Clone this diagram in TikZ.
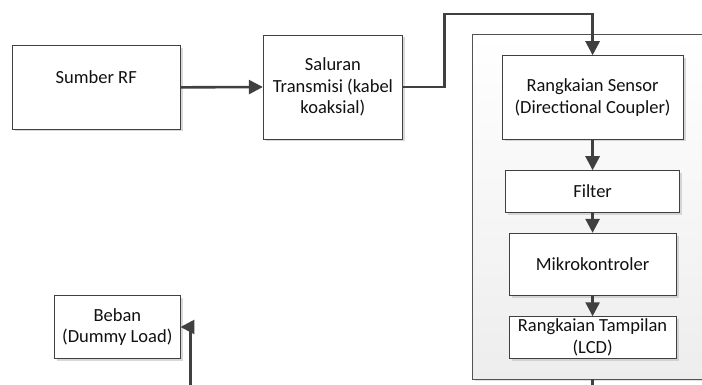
\documentclass[tikz,border=0pt]{standalone}
\usepackage{fontspec}
\setmainfont{Carlito}
\usetikzlibrary{arrows.meta,shadows}
\definecolor{edgegray}{HTML}{404040}
\definecolor{txtcol}{HTML}{111111}
\tikzset{
  box/.style={draw=edgegray, line width=0.9pt, fill=white, inner sep=0pt,
    align=center, text=txtcol, font=\fontsize{18.5}{21.6}\selectfont,
    drop shadow={shadow xshift=2.5pt, shadow yshift=-2.5pt, fill=black!22, opacity=0.7}},
  txtlabel/.style={inner sep=0pt, align=center, text=txtcol, font=\fontsize{18.5}{21.6}\selectfont},
  container/.style={draw=edgegray!90, line width=0.9pt, top color=white, bottom color=black!7, inner sep=0pt,
    drop shadow={shadow xshift=2pt, shadow yshift=-2pt, fill=black!20, opacity=0.6}},
  conn/.style={draw=edgegray, line width=2.6pt},
  arrowconn/.style={conn, -{Triangle[length=14pt,width=14pt]}},
}
\begin{document}
\begin{tikzpicture}[x=1pt,y=-1pt]
  \useasboundingbox (0,0) rectangle (702,385);
  \clip (0,0) rectangle (702,385);
  % container
  \node[container, minimum width=247.2pt, minimum height=344.7pt] (cont) at (596.4,206.65) {};
  % boxes
  \node[box, minimum width=167.5pt, minimum height=83.3pt] (sumber) at (96.25,87.35) {};
  \node[txtlabel] (sumbertxt) at ([yshift=10.5pt]sumber.center) {Sumber RF};
  \node[box, minimum width=139.2pt, minimum height=104pt] (saluran) at (332.9,87) {Saluran\\Transmisi (kabel\\koaksial)};
  \node[box, minimum width=181.2pt, minimum height=83.3pt] (sensor) at (592.6,97.35) {Rangkaian Sensor\\(Directional Coupler)};
  \node[box, minimum width=173.7pt, minimum height=41.6pt] (filter) at (592.6,191.5) {Filter};
  \node[box, minimum width=167pt, minimum height=62.4pt] (mikro) at (592.6,264.5) {Mikrokontroler};
  \node[box, minimum width=167pt, minimum height=41.6pt] (lcd) at (592.6,337.5) {Rangkaian Tampilan\\(LCD)};
  \node[box, minimum width=125.4pt, minimum height=62.6pt] (beban) at (117.3,327) {Beban\\(Dummy Load)};
  % connectors
  \coordinate (bendtop) at (444.6,14);
  \coordinate (contout) at (592.6,395);
  \coordinate (bebanin) at (190.7,395);
  \draw[arrowconn] (sumber.east) -- (saluran.west);
  \draw[arrowconn] (saluran.east) -| (bendtop) -| (sensor.north);
  \draw[arrowconn] (sensor.south) -- (filter.north);
  \draw[arrowconn] (filter.south) -- (mikro.north);
  \draw[arrowconn] (mikro.south) -- (lcd.north);
  \draw[conn] (cont.south -| lcd.south) -- (contout);
  \draw[arrowconn] (bebanin) |- (beban.east);
\end{tikzpicture}
\end{document}
